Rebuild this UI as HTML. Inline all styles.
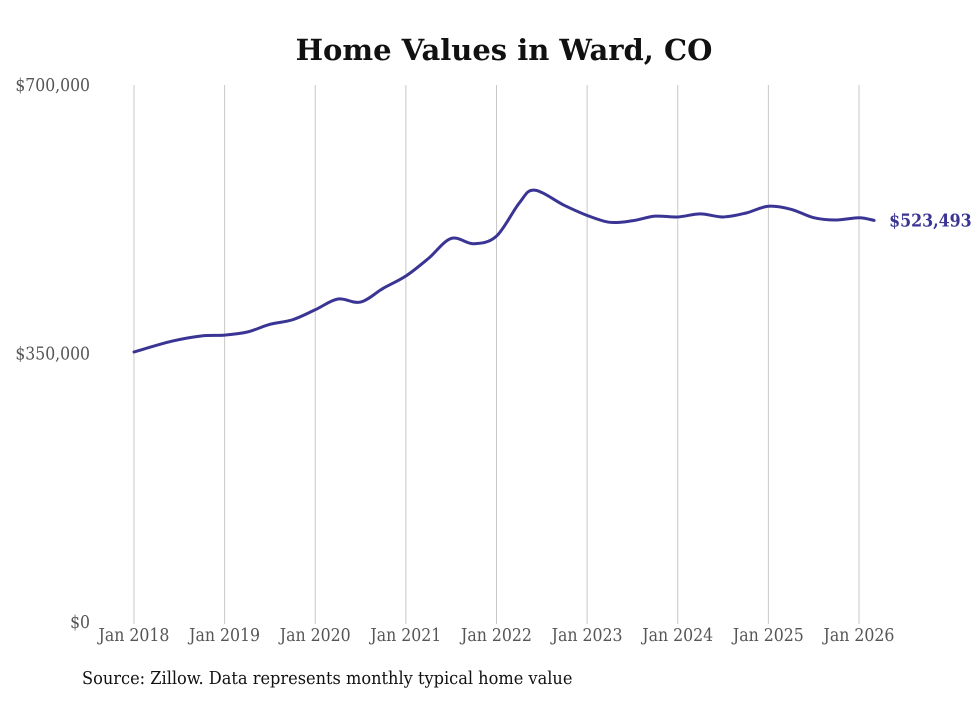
<!DOCTYPE html>
<html><head><meta charset="utf-8"><style>
body{margin:0;background:#fff;width:980px;height:699px;overflow:hidden}
svg text{font-family:"DejaVu Serif",serif;font-stretch:condensed}
</style></head><body>
<svg width="980" height="699" xmlns="http://www.w3.org/2000/svg">
<text x="504" y="60" text-anchor="middle" font-size="29" font-weight="bold" fill="#111" style="font-stretch:normal">Home Values in Ward, CO</text>
<g id="grid"></g><g id="yax"></g><g id="xax"></g>
<path id="line" fill="none" stroke="#3a3594" stroke-width="3" stroke-linejoin="round" stroke-linecap="round"/>
<text id="endlabel" font-size="17.6" font-weight="bold" fill="#3a3594"></text>
<text x="82" y="684" font-size="18" fill="#111">Source: Zillow. Data represents monthly typical home value</text>
</svg>
<script>
// months since Jan 2018
const months=[0,5,9,12,15,18,21,24,27,30,33,36,39,42,45,48,51,53,57,60,63,66,69,72,75,78,81,84,87,90,93,96,98];
const values=[352000,366000,373000,374000,378000,388000,394000,407000,421000,417000,435000,451000,474000,500000,493000,503000,546000,563000,543000,530000,521000,523000,529000,528000,532000,528000,533000,542000,538000,527000,524000,527000,523493];
const yTicks=[0,350000,700000];
const yTickLabels=["$0","$350,000","$700,000"];
const xTickMonths=[0,12,24,36,48,60,72,84,96];
const xTickLabels=["Jan 2018","Jan 2019","Jan 2020","Jan 2021","Jan 2022","Jan 2023","Jan 2024","Jan 2025","Jan 2026"];
const endLabel="$523,493";
const NS="http://www.w3.org/2000/svg";
const X=m=>134+m*(859-134)/96;
const Y=v=>622-v*537/700000;
const grid=document.getElementById('grid'),yax=document.getElementById('yax'),xax=document.getElementById('xax');
xTickMonths.forEach((m,i)=>{
 const l=document.createElementNS(NS,'line');
 l.setAttribute('x1',X(m));l.setAttribute('x2',X(m));l.setAttribute('y1',85);l.setAttribute('y2',624);
 l.setAttribute('stroke','#c8c8c8');l.setAttribute('stroke-width','1');
 
 
 grid.appendChild(l);
 const t=document.createElementNS(NS,'text');
 t.setAttribute('x',X(m));t.setAttribute('y',641);t.setAttribute('text-anchor','middle');
 t.setAttribute('font-size','17.5');t.setAttribute('fill','#555');t.textContent=xTickLabels[i];
 
 
 xax.appendChild(t);
});
yTicks.forEach((v,i)=>{
 const t=document.createElementNS(NS,'text');
 t.setAttribute('x',90);t.setAttribute('y',Y(v)+6);t.setAttribute('text-anchor','end');
 t.setAttribute('font-size','17.4');t.setAttribute('fill','#555');t.textContent=yTickLabels[i];
 
 
 yax.appendChild(t);
});
const pts=months.map((m,i)=>[X(m),Y(values[i])]);
let d='M'+pts[0][0]+','+pts[0][1];
for(let i=0;i<pts.length-1;i++){
 const p0=pts[Math.max(0,i-1)],p1=pts[i],p2=pts[i+1],p3=pts[Math.min(pts.length-1,i+2)];
 const k=1/6;
 d+=' C'+(p1[0]+(p2[0]-p0[0])*k)+','+(p1[1]+(p2[1]-p0[1])*k)+' '+(p2[0]-(p3[0]-p1[0])*k)+','+(p2[1]-(p3[1]-p1[1])*k)+' '+p2[0]+','+p2[1];
}
document.getElementById('line').setAttribute('d',d);
const el=document.getElementById('endlabel');
const last=pts[pts.length-1];
el.setAttribute('x',last[0]+15);el.setAttribute('y',last[1]+6);el.textContent=endLabel;
</script>
</body></html>
